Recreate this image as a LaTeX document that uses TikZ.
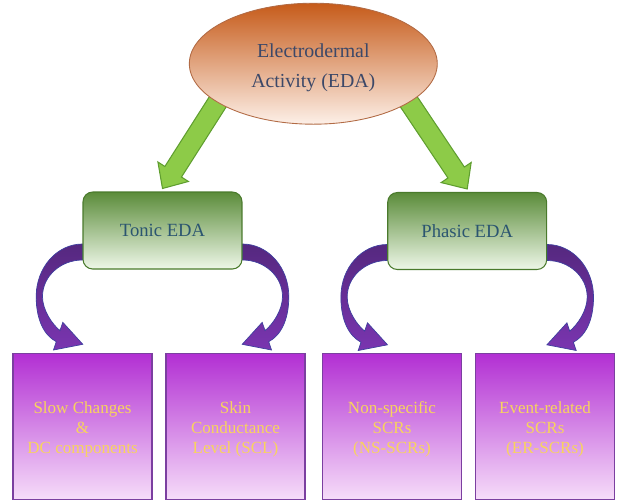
\documentclass[tikz,border=0pt]{standalone}
\usepackage{fontspec}
\setmainfont{Liberation Serif}
\usetikzlibrary{shapes.geometric,calc,backgrounds}

\definecolor{edatop}{HTML}{C65B1A}
\definecolor{edabot}{HTML}{FDF0E8}
\definecolor{edaline}{HTML}{B26B45}
\definecolor{edatext}{HTML}{3C4868}
\definecolor{gtop}{HTML}{5B8C3A}
\definecolor{gbot}{HTML}{EEF7E8}
\definecolor{gline}{HTML}{4A7A2C}
\definecolor{gtext}{HTML}{2B5570}
\definecolor{ptop}{HTML}{B22FD3}
\definecolor{pbot}{HTML}{F6DDF9}
\definecolor{pline}{HTML}{7B3FA0}
\definecolor{ptext}{HTML}{F8D45C}
\definecolor{arrgreen}{HTML}{8DCB48}
\definecolor{arrgline}{HTML}{5F9E2F}
\definecolor{arrptop}{HTML}{55287F}
\definecolor{arrpbot}{HTML}{7A35B0}
\definecolor{arrpline}{HTML}{3F3F9F}

\tikzset{
  edanode/.style={ellipse, draw=edaline, line width=0.5pt, top color=edatop, bottom color=edabot,
    minimum width=4.96cm, minimum height=2.42cm, inner sep=0pt, align=center, text=edatext,
    font=\fontsize{11.3}{17}\selectfont, text height=29.2pt},
  greenbox/.style={rectangle, rounded corners=5.5pt, draw=gline, line width=0.6pt,
    top color=gtop, bottom color=gbot, minimum width=3.18cm, minimum height=1.54cm,
    text=gtext, font=\fontsize{10.6}{13}\selectfont},
  purplebox/.style={rectangle, draw=pline, line width=0.6pt, top color=ptop, bottom color=pbot,
    minimum width=2.78cm, minimum height=2.93cm, inner sep=0pt, align=center, text=ptext,
    font=\fontsize{9.7}{11.3}\selectfont, text height=32.6pt},
  fatarrow/.style={fill=arrgreen, draw=arrgline, line width=0.6pt, line join=miter},
  bendarrow/.style={top color=arrptop, bottom color=arrpbot, draw=arrpline, line width=0.4pt},
  bend arrow/.pic={
    \draw[bendarrow] (0,13.5) .. controls (-25.6,13.5) and (-46.3,37) .. (-46.3,66)
      .. controls (-46.3,90) and (-38,105) .. (-26.2,111.2)
      -- (-29,119.5) -- (0.3,113.8) -- (-19.7,91.8) -- (-22.5,100.1)
      .. controls (-30,94) and (-40,80) .. (-40,66)
      .. controls (-40,45.8) and (-22,29.5) .. (0,29.5) -- cycle;
  },
}

% fat straight arrow from #1 to #2
\newcommand{\fatarrow}[2]{%
  \coordinate (hb) at ($(#2)!11.3pt!(#1)$);
  \draw[fatarrow] ($(#1)!5.6pt!90:(#2)$) -- ($(hb)!5.6pt!-90:(#1)$) -- ($(hb)!10.3pt!-90:(#1)$)
    -- (#2) -- ($(hb)!10.3pt!90:(#1)$) -- ($(hb)!5.6pt!90:(#1)$) -- ($(#1)!5.6pt!-90:(#2)$) -- cycle;
}

\begin{document}
\begin{tikzpicture}[x=0.02cm,y=-0.02cm]
\useasboundingbox (0,0) rectangle (621,501);

% top
\node[edanode] (eda) at (313.3,63.7) {Electrodermal\\Activity (EDA)};

% middle
\node[greenbox] (tonic) at (162.5,230.5) {Tonic EDA};
\node[greenbox] (phasic) at (467.2,231) {Phasic EDA};

% bottom
\node[purplebox] (slow) at (82.5,426.5) {Slow Changes\\\&\\DC components};
\node[purplebox] (scl) at (235.5,426.5) {Skin\\Conductance\\Level (SCL)};
\node[purplebox] (nsscr) at (392,426.5) {Non-specific\\SCRs\\(NS-SCRs)};
\node[purplebox] (erscr) at (545,426.5) {Event-related\\SCRs\\(ER-SCRs)};

\begin{scope}[on background layer]
% green arrows
\coordinate (tl1) at ($(tonic.north)+(0,-3)$);
\coordinate (tl0) at ($(eda.202)!-5.7pt!(tl1)$);
\fatarrow{tl0}{tl1}
\coordinate (pl1) at ($(phasic.north)+(0,-3)$);
\coordinate (pl0) at ($(eda.338)!-5.7pt!(pl1)$);
\fatarrow{pl0}{pl1}
% curved arrows
\pic at (tonic.west) {bend arrow};
\pic[xscale=-1] at (tonic.east) {bend arrow};
\pic at (phasic.west) {bend arrow};
\pic[xscale=-1] at (phasic.east) {bend arrow};
\end{scope}
\end{tikzpicture}
\end{document}
